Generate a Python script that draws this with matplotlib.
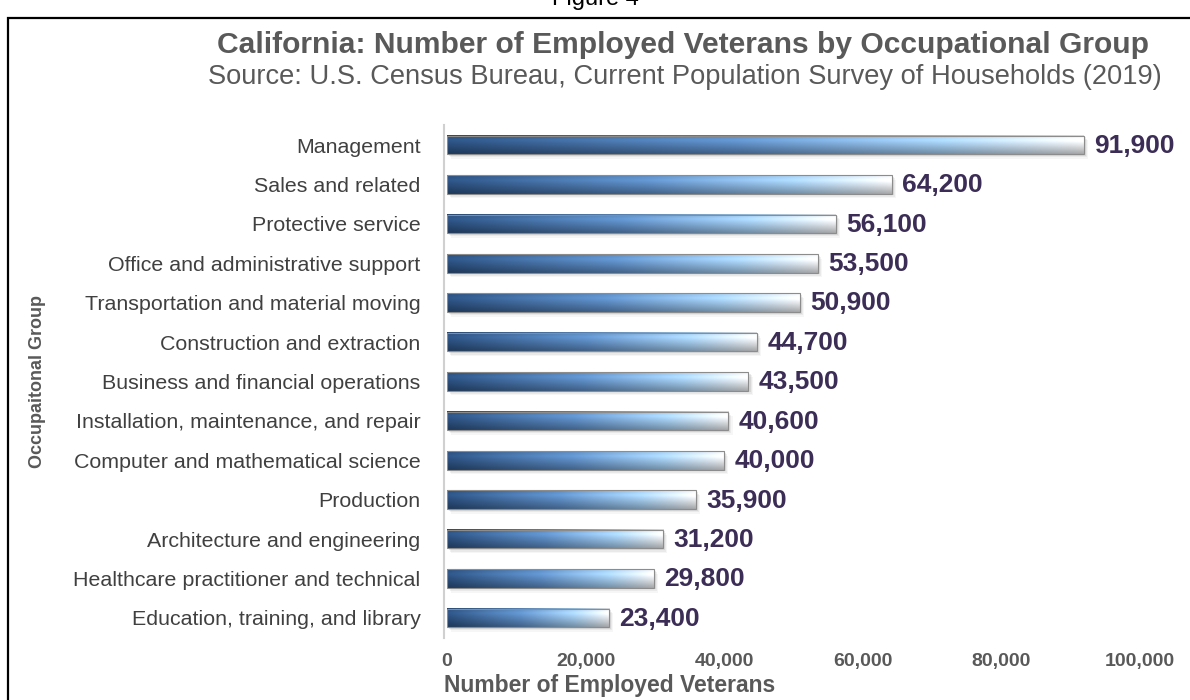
import matplotlib
matplotlib.use("Agg")
import matplotlib.pyplot as plt
import numpy as np
from matplotlib.colors import LinearSegmentedColormap
from matplotlib.patches import Rectangle

plt.rcParams["font.family"] = ["Liberation Sans", "DejaVu Sans"]

categories = [
    "Management",
    "Sales and related",
    "Protective service",
    "Office and administrative support",
    "Transportation and material moving",
    "Construction and extraction",
    "Business and financial operations",
    "Installation, maintenance, and repair",
    "Computer and mathematical science",
    "Production",
    "Architecture and engineering",
    "Healthcare practitioner and technical",
    "Education, training, and library",
]
veterans = [91900, 64200, 56100, 53500, 50900, 44700, 43500,
            40600, 40000, 35900, 31200, 29800, 23400]
x_ticks = [0, 20000, 40000, 60000, 80000, 100000]

TITLE = "California: Number of Employed Veterans by Occupational Group"
SUBTITLE = "Source: U.S. Census Bureau, Current Population Survey of Households (2019)"

W, H = 1190, 700
fig = plt.figure(figsize=(W / 100, H / 100), dpi=100)

# outer frame and the caption above it (cut off at the top, as in the source)
fig.patches.append(Rectangle((8 / W, -0.05), 1.2, 1 - 18 / H + 0.05,
                             transform=fig.transFigure, fill=False,
                             edgecolor="black", linewidth=1.6))
fig.text(595 / W, 1 - 5 / H, "Figure 4", ha="center", va="baseline",
         fontsize=17, color="black")

ax = fig.add_axes([447 / W, 1 - 637.7 / H, 693 / W, 512.4 / H])

# spines first: moving a spine resets the tick labels
for s in ["top", "right", "bottom"]:
    ax.spines[s].set_visible(False)
ax.spines["left"].set_position(("outward", 2))
ax.spines["left"].set_color("#d0d0d0")
ax.spines["left"].set_linewidth(1.5)

n = len(categories)
ypos = np.arange(n)[::-1]
bar_h = 0.47

cmap = LinearSegmentedColormap.from_list(
    "bar", [(0.0, "#2c5282"), (0.45, "#5f90c8"), (0.78, "#a8d2f5"), (1.0, "#f6f7f9")])
nx, ny = 256, 24
t = np.linspace(0, 1, nx)
row = cmap(t)[:, :3]
v = np.linspace(0, 1, ny)  # 0 top -> 1 bottom
shade = np.where(v < 0.25, 1.08 - 0.1 * (0.25 - v) / 0.25, 1.08 - 0.4 * (v - 0.25) / 0.75)
shade[0] = 0.85

for y, val in zip(ypos, veterans):
    img = np.clip(row[None, :, :] * shade[:, None, None], 0, 1)
    # soft shadow under the bar
    for k, a in enumerate([0.12, 0.08, 0.05]):
        off = 0.04 + 0.04 * k
        ax.add_patch(Rectangle((300 + k * 150, y - bar_h / 2 - off), val, bar_h,
                               facecolor="#555555", alpha=a, linewidth=0, zorder=1))
    ax.imshow(img, extent=(0, val, y - bar_h / 2, y + bar_h / 2), aspect="auto",
              interpolation="bilinear", origin="upper", zorder=2)
    ax.add_patch(Rectangle((0, y - bar_h / 2), val, bar_h, fill=False,
                           edgecolor="#8c8c8c", linewidth=0.8, zorder=3))
    ax.text(val + 1500, y - 0.02, f"{val:,}", ha="left", va="center",
            fontsize=19, fontweight="bold", color="#3b2d55", zorder=4)

ax.set_xlim(0, 100000)
ax.set_ylim(-0.5, n - 0.5)
ax.set_aspect("auto")
ax.set_xticks(x_ticks)
ax.set_xticklabels([f"{v:,}" for v in x_ticks], fontsize=14,
                   fontweight="bold", color="#595959")
ax.set_yticks(ypos)
ax.set_yticklabels(categories, fontsize=15.4, color="#404040")
ax.tick_params(axis="x", length=0, pad=11)
ax.tick_params(axis="y", length=0, pad=17)

fig.text(683 / W, 1 - 45 / H, TITLE, ha="center", va="center",
         fontsize=21.6, fontweight="bold", color="#595959")
fig.text(685 / W, 1 - 77 / H, SUBTITLE, ha="center", va="center",
         fontsize=19.6, color="#595959")
fig.text(610 / W, 1 - 692 / H, "Number of Employed Veterans", ha="center",
         va="baseline", fontsize=16.5, fontweight="bold", color="#595959")
fig.text(38 / W, 1 - 382 / H, "Occupaitonal Group", ha="center", va="center",
         rotation=90, fontsize=13, fontweight="bold", color="#595959")

fig.savefig("out.png", dpi=100)
